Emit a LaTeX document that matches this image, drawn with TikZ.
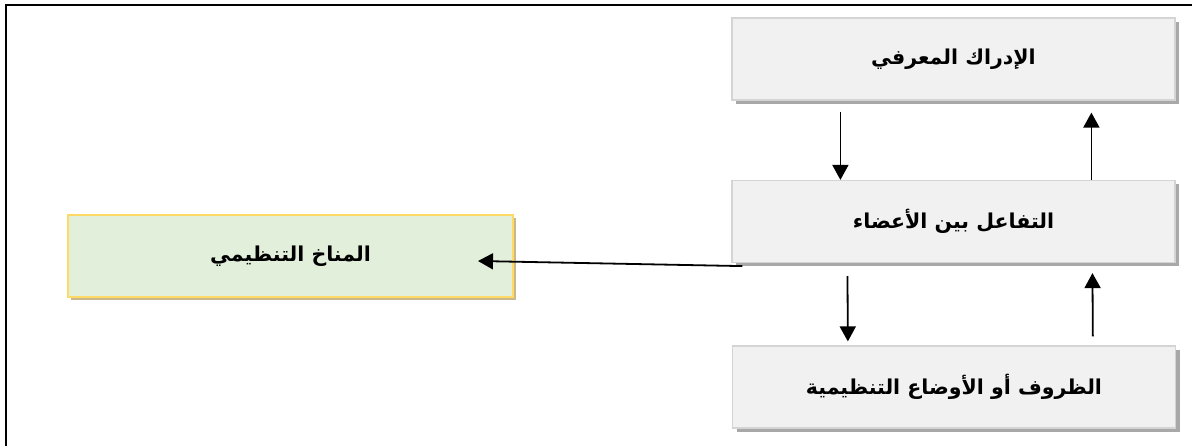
\documentclass[tikz,border=0pt]{standalone}
\usepackage{fontspec}
\usetikzlibrary{arrows.meta,shadows}
\TeXXeTstate=1
\newfontfamily\arabicfont[Script=Arabic,BoldFont={DejaVu Sans Bold}]{DejaVu Sans}
\definecolor{boxfill}{HTML}{F1F1F1}
\definecolor{boxline}{HTML}{D4D4D4}
\definecolor{boxshade}{HTML}{A8A8A8}
\definecolor{greenfill}{HTML}{E2EFDA}
\definecolor{goldline}{HTML}{FFD966}
\definecolor{goldshade}{HTML}{C9B88C}
\begin{document}
\begin{tikzpicture}[x=1pt,y=-1pt,
  labelfont/.style={font=\arabicfont\bfseries\fontsize{20.5}{24}\selectfont},
  graybox/.style={draw=boxline,line width=1.2pt,fill=boxfill,
    minimum width=443pt,minimum height=82pt,inner sep=0pt,
    drop shadow={shadow xshift=4pt,shadow yshift=-4pt,fill=boxshade,opacity=1},
    labelfont},
  greenbox/.style={draw=goldline,line width=2pt,fill=greenfill,
    minimum width=445pt,minimum height=82pt,inner sep=0pt,
    drop shadow={shadow xshift=3pt,shadow yshift=-3pt,fill=goldshade,opacity=1},
    labelfont},
  arr/.style={draw=black,line width=1.8pt,-{Triangle[length=15pt,width=16pt]}}]
  \useasboundingbox (0,0) rectangle (1192,446);
  % frame
  \draw[line width=2pt] (6,446) -- (6,5.5) -- (1192,5.5);
  % boxes
  \node[graybox] (cog) at (953.5,59) {\beginR الإدراك المعرفي\endR};
  \node[graybox] (inter) at (953.5,221.5) {\beginR التفاعل بين الأعضاء\endR};
  \node[graybox] (cond) at (954,387) {\beginR الظروف أو الأوضاع التنظيمية\endR};
  \node[greenbox] (clim) at (290.5,256) {\beginR المناخ التنظيمي\endR};
  % connectors
  \draw[arr,shorten <=11pt] ([xshift=109pt]cog.south west) -- ([xshift=109pt]inter.north west);
  \draw[arr,shorten >=12pt] ([xshift=360pt]inter.north west) -- ([xshift=360pt]cog.south west);
  \draw[arr,shorten <=13pt,shorten >=4pt] ([xshift=116pt]inter.south west) -- ([xshift=116pt]cond.north west);
  \draw[arr,shorten <=9pt,shorten >=10pt] ([xshift=361pt]cond.north west) -- ([xshift=361pt]inter.south west);
  \coordinate (lstart) at ([xshift=11pt,yshift=-3pt]inter.south west);
  \draw[arr] (lstart) -- ([xshift=-36pt,yshift=-5pt]clim.east);
\end{tikzpicture}
\end{document}
